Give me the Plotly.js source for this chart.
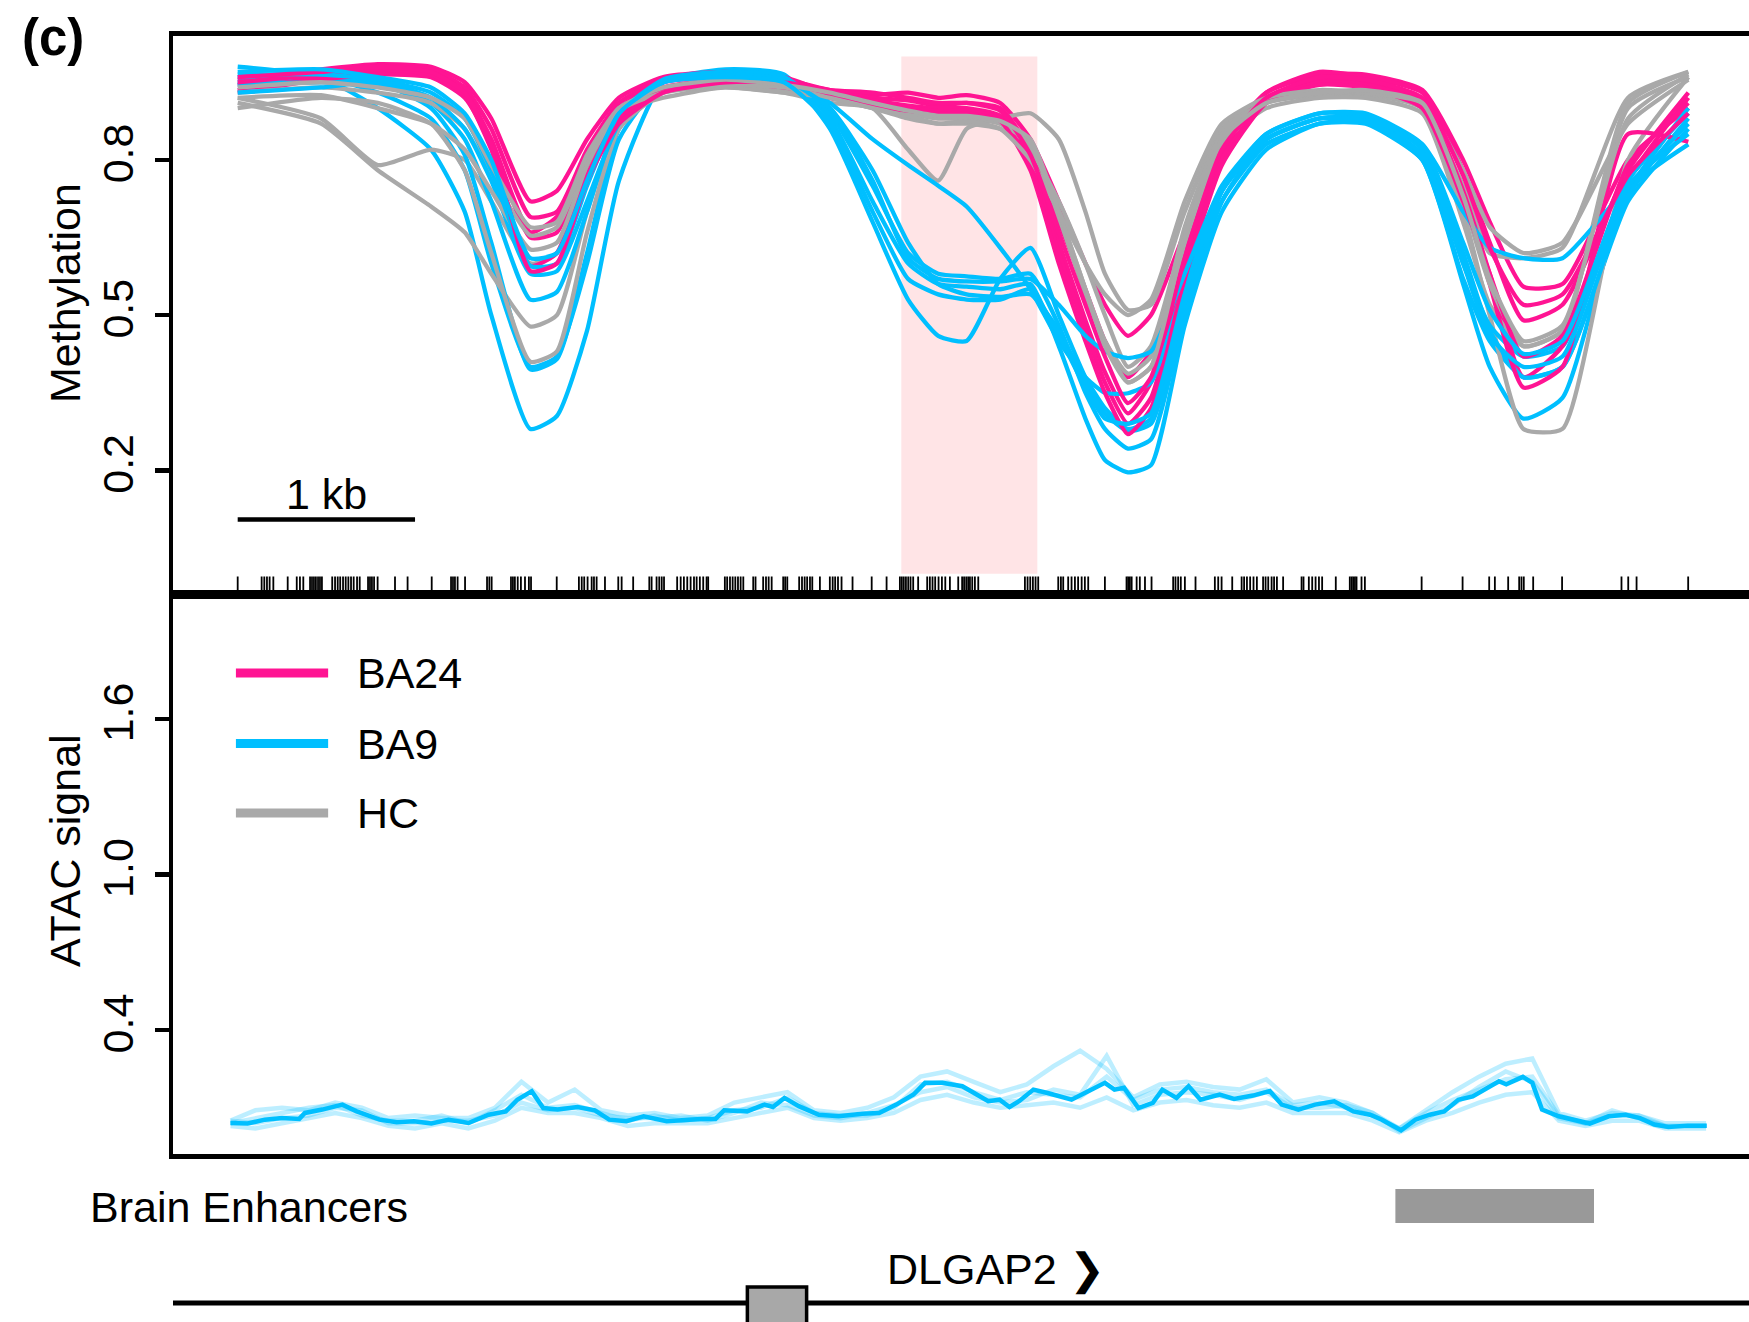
<!DOCTYPE html>
<html>
<head>
<meta charset="utf-8">
<script src="https://cdn.plot.ly/plotly-3.0.1.min.js"></script>
<style>html,body{margin:0;padding:0;background:#fff}#chart{width:1749px;height:1322px}</style>
</head>
<body>
<div id="chart"></div>
<script>
// ---------------- DATA ----------------
// genomic position in kb (0 = first CpG of the region)
const knotsKb = [0, 0.47, 0.79, 1.09, 1.28, 1.43, 1.65, 1.80, 1.97, 2.15, 2.4, 2.75, 3.08, 3.34, 3.58, 3.78, 3.95, 4.11, 4.30, 4.47, 4.63, 4.78, 4.89, 5.02, 5.15, 5.34, 5.55, 5.8, 6.1, 6.36, 6.68, 6.91, 7.06, 7.25, 7.47, 7.84, 8.18];

// BA24 samples (methylation)
const ba24_1 = [0.955,0.975,0.985,0.98,0.95,0.88,0.72,0.74,0.84,0.92,0.96,0.97,0.96,0.93,0.925,0.93,0.92,0.925,0.91,0.84,0.72,0.60,0.52,0.46,0.50,0.66,0.83,0.93,0.965,0.965,0.935,0.80,0.68,0.555,0.56,0.80,0.90];
const ba24_2 = [0.945,0.97,0.98,0.975,0.94,0.86,0.69,0.70,0.82,0.91,0.955,0.965,0.955,0.935,0.92,0.915,0.905,0.91,0.90,0.82,0.68,0.55,0.45,0.38,0.43,0.63,0.82,0.93,0.97,0.96,0.93,0.78,0.64,0.49,0.52,0.78,0.93];
const ba24_3 = [0.935,0.96,0.97,0.97,0.93,0.84,0.66,0.69,0.80,0.90,0.95,0.96,0.95,0.93,0.915,0.905,0.90,0.90,0.885,0.80,0.64,0.49,0.39,0.31,0.37,0.60,0.81,0.92,0.955,0.95,0.915,0.74,0.58,0.38,0.44,0.76,0.92];
const ba24_4 = [0.93,0.955,0.965,0.96,0.92,0.83,0.65,0.66,0.79,0.89,0.94,0.955,0.945,0.92,0.91,0.90,0.895,0.895,0.88,0.79,0.62,0.47,0.37,0.29,0.34,0.58,0.80,0.915,0.95,0.945,0.91,0.73,0.56,0.36,0.40,0.85,0.835];
const ba24_5 = [0.95,0.965,0.975,0.965,0.925,0.82,0.595,0.62,0.77,0.88,0.935,0.95,0.94,0.925,0.905,0.895,0.89,0.89,0.875,0.78,0.60,0.45,0.35,0.27,0.32,0.57,0.79,0.91,0.945,0.94,0.90,0.72,0.58,0.42,0.46,0.79,0.91];
const ba24_6 = [0.96,0.97,0.98,0.97,0.93,0.83,0.585,0.60,0.76,0.87,0.93,0.95,0.95,0.935,0.93,0.92,0.91,0.91,0.895,0.81,0.66,0.52,0.42,0.33,0.38,0.61,0.82,0.92,0.96,0.955,0.92,0.77,0.63,0.52,0.54,0.77,0.89];

// BA9 samples (methylation)
const ba9_1 = [0.98,0.96,0.90,0.82,0.70,0.50,0.28,0.305,0.47,0.76,0.95,0.975,0.965,0.86,0.68,0.53,0.46,0.45,0.57,0.63,0.50,0.38,0.32,0.28,0.30,0.52,0.72,0.83,0.87,0.875,0.80,0.56,0.40,0.30,0.34,0.74,0.83];
const ba9_2 = [0.96,0.96,0.93,0.88,0.78,0.60,0.40,0.42,0.60,0.84,0.95,0.97,0.96,0.88,0.72,0.60,0.56,0.555,0.55,0.56,0.44,0.30,0.22,0.196,0.21,0.48,0.70,0.82,0.87,0.87,0.80,0.57,0.45,0.38,0.40,0.72,0.86];
const ba9_3 = [0.95,0.955,0.95,0.90,0.81,0.64,0.395,0.415,0.62,0.86,0.955,0.97,0.96,0.89,0.75,0.62,0.58,0.575,0.57,0.58,0.48,0.35,0.28,0.242,0.26,0.50,0.72,0.84,0.88,0.88,0.81,0.60,0.48,0.42,0.44,0.74,0.90];
const ba9_4 = [0.945,0.95,0.945,0.91,0.84,0.72,0.53,0.545,0.70,0.88,0.95,0.965,0.955,0.90,0.78,0.64,0.56,0.54,0.535,0.54,0.47,0.37,0.31,0.276,0.29,0.52,0.74,0.85,0.89,0.885,0.82,0.62,0.47,0.38,0.40,0.73,0.88];
const ba9_5 = [0.93,0.94,0.95,0.92,0.86,0.76,0.58,0.585,0.72,0.87,0.95,0.96,0.955,0.91,0.84,0.79,0.75,0.71,0.63,0.55,0.45,0.38,0.35,0.349,0.37,0.56,0.74,0.84,0.88,0.88,0.83,0.70,0.63,0.61,0.61,0.75,0.87];
const ba9_6 = [0.965,0.965,0.955,0.93,0.88,0.78,0.595,0.60,0.75,0.89,0.955,0.965,0.955,0.90,0.76,0.61,0.57,0.565,0.565,0.57,0.52,0.46,0.43,0.417,0.43,0.58,0.75,0.85,0.89,0.89,0.83,0.64,0.51,0.425,0.45,0.76,0.89];
const ba9_7 = [0.97,0.975,0.96,0.94,0.89,0.80,0.61,0.62,0.76,0.89,0.95,0.96,0.95,0.87,0.70,0.57,0.54,0.53,0.53,0.55,0.46,0.36,0.30,0.29,0.31,0.54,0.74,0.84,0.88,0.875,0.81,0.60,0.46,0.40,0.42,0.75,0.85];

// HC samples (methylation)
const hc_1 = [0.92,0.88,0.79,0.82,0.80,0.72,0.60,0.62,0.78,0.89,0.92,0.94,0.93,0.91,0.90,0.82,0.76,0.86,0.88,0.89,0.84,0.70,0.58,0.51,0.52,0.70,0.86,0.92,0.93,0.93,0.90,0.75,0.62,0.61,0.63,0.92,0.97];
const hc_2 = [0.91,0.87,0.78,0.71,0.66,0.58,0.478,0.50,0.70,0.87,0.93,0.945,0.935,0.92,0.91,0.90,0.89,0.885,0.87,0.82,0.72,0.60,0.50,0.40,0.44,0.66,0.84,0.91,0.925,0.925,0.90,0.70,0.50,0.28,0.28,0.80,0.96];
const hc_3 = [0.90,0.92,0.91,0.87,0.78,0.62,0.41,0.43,0.66,0.86,0.93,0.94,0.93,0.92,0.90,0.88,0.87,0.87,0.86,0.83,0.70,0.55,0.45,0.37,0.40,0.64,0.83,0.90,0.92,0.92,0.89,0.68,0.52,0.44,0.47,0.90,0.96];
const hc_4 = [0.93,0.94,0.93,0.91,0.86,0.77,0.654,0.67,0.80,0.90,0.935,0.95,0.94,0.925,0.905,0.89,0.88,0.88,0.87,0.83,0.69,0.54,0.45,0.387,0.42,0.67,0.85,0.915,0.93,0.93,0.905,0.72,0.56,0.44,0.47,0.91,0.97];
const hc_5 = [0.92,0.925,0.90,0.87,0.82,0.74,0.627,0.64,0.79,0.895,0.93,0.945,0.94,0.92,0.90,0.885,0.87,0.875,0.86,0.80,0.70,0.60,0.54,0.50,0.53,0.72,0.87,0.92,0.935,0.93,0.91,0.78,0.67,0.62,0.64,0.87,0.955];
const hc_6 = [0.94,0.95,0.94,0.92,0.88,0.79,0.67,0.68,0.81,0.90,0.94,0.955,0.945,0.93,0.91,0.895,0.885,0.885,0.875,0.84,0.70,0.55,0.44,0.37,0.40,0.65,0.84,0.91,0.93,0.935,0.91,0.73,0.57,0.45,0.48,0.88,0.965];

// CpG positions (kb) shown as a rug
const cpgKb = [0.000,0.135,0.150,0.165,0.180,0.201,0.282,0.333,0.351,0.370,0.408,0.419,0.430,0.441,0.453,0.464,0.475,0.533,0.549,0.564,0.578,0.594,0.609,0.624,0.639,0.654,0.673,0.688,0.735,0.746,0.757,0.769,0.789,0.887,0.958,1.094,1.203,1.214,1.225,1.240,1.282,1.406,1.419,1.432,1.541,1.552,1.563,1.579,1.597,1.620,1.642,1.654,1.799,1.924,1.940,1.954,1.973,1.996,
2.009,2.024,2.071,2.146,2.165,2.230,2.321,2.334,2.362,2.377,2.391,2.404,2.478,2.498,2.516,2.535,2.554,2.573,2.588,2.606,2.625,2.644,2.653,2.747,2.760,2.776,2.791,2.806,2.821,2.836,2.851,2.907,2.920,2.963,2.979,2.994,3.011,3.076,3.087,3.099,3.166,3.182,3.197,3.211,3.227,3.240,3.283,3.339,3.355,3.369,3.385,3.405,3.467,3.575,3.659,3.734,3.745,3.756,3.768,3.781,3.794,3.809,3.837,3.888,3.903,3.918,3.933,3.952,3.971,3.990,4.016,4.063,
4.085,4.096,4.108,4.119,4.129,4.142,4.157,4.176,4.439,4.454,4.469,4.484,4.499,4.514,4.627,4.642,4.655,4.683,4.702,4.721,4.739,4.759,4.777,4.796,4.890,5.012,5.021,5.031,5.041,5.069,5.087,5.116,5.153,5.275,5.288,5.303,5.318,5.341,5.401,5.510,5.529,5.548,5.608,5.661,5.675,5.691,5.709,5.728,5.747,5.782,5.796,5.811,5.830,5.844,5.860,5.895,5.999,6.010,6.040,6.059,6.078,6.097,6.115,
6.192,6.271,6.281,6.290,6.300,6.309,6.337,6.356,6.676,6.907,7.057,7.089,7.164,7.226,7.239,7.252,7.305,7.468,7.803,7.841,7.888,8.179];

// ATAC signal (BA9): mean track and replicate tracks
const atacMeanKb = [-0.041,0.056,0.153,0.25,0.347,0.379,0.477,0.59,0.671,0.80,0.897,0.994,1.092,1.189,1.302,1.415,1.512,1.577,1.658,1.723,1.804,1.917,2.014,2.095,2.192,2.289,2.419,2.516,2.613,2.694,2.743,2.872,2.97,3.018,3.083,3.164,3.277,3.39,3.52,3.617,3.714,3.811,3.876,3.973,4.086,4.167,4.232,4.296,4.352,4.406,4.487,4.567,4.702,4.796,4.89,4.944,4.998,5.079,5.16,5.214,5.294,5.362,5.429,5.537,5.618,5.725,5.82,5.887,5.981,6.075,6.183,6.291,6.385,6.452,6.56,6.641,6.722,6.803,6.883,6.964,7.045,7.112,7.153,7.247,7.3,7.355,7.449,7.53,7.624,7.731,7.826,7.907,7.988,8.068,8.176,8.284];
const atacMean = [0.041,0.039,0.054,0.060,0.057,0.080,0.093,0.112,0.086,0.054,0.044,0.048,0.039,0.054,0.041,0.073,0.086,0.131,0.164,0.099,0.093,0.103,0.090,0.054,0.048,0.067,0.048,0.054,0.057,0.057,0.090,0.086,0.112,0.103,0.138,0.106,0.073,0.067,0.077,0.080,0.112,0.151,0.196,0.196,0.183,0.151,0.125,0.131,0.103,0.125,0.170,0.157,0.131,0.164,0.196,0.170,0.177,0.099,0.119,0.170,0.138,0.183,0.131,0.151,0.134,0.147,0.164,0.112,0.093,0.112,0.125,0.086,0.073,0.054,0.013,0.054,0.073,0.086,0.131,0.144,0.177,0.202,0.190,0.219,0.196,0.093,0.067,0.054,0.039,0.067,0.073,0.060,0.035,0.026,0.031,0.031];
const atacRepKb = [-0.04,0.1,0.25,0.4,0.55,0.7,0.85,1.0,1.15,1.3,1.45,1.6,1.75,1.9,2.05,2.2,2.35,2.5,2.65,2.8,2.95,3.1,3.25,3.4,3.55,3.7,3.85,4.0,4.15,4.3,4.45,4.6,4.75,4.9,5.05,5.2,5.35,5.5,5.65,5.8,5.95,6.1,6.25,6.4,6.55,6.7,6.85,7.0,7.15,7.3,7.45,7.6,7.75,7.9,8.05,8.28];
const atacRep1 = [0.05,0.09,0.10,0.09,0.12,0.10,0.06,0.07,0.06,0.06,0.10,0.20,0.12,0.17,0.09,0.07,0.08,0.06,0.07,0.12,0.14,0.16,0.09,0.08,0.10,0.14,0.22,0.24,0.20,0.16,0.19,0.26,0.32,0.25,0.14,0.19,0.20,0.18,0.17,0.21,0.12,0.14,0.12,0.08,0.02,0.09,0.16,0.22,0.27,0.29,0.08,0.05,0.08,0.07,0.04,0.04];
const atacRep2 = [0.03,0.02,0.04,0.06,0.08,0.06,0.03,0.02,0.04,0.02,0.05,0.10,0.08,0.08,0.06,0.03,0.04,0.04,0.04,0.06,0.08,0.10,0.06,0.05,0.06,0.08,0.13,0.15,0.12,0.10,0.11,0.12,0.10,0.14,0.09,0.12,0.13,0.11,0.10,0.12,0.08,0.08,0.08,0.05,0.005,0.05,0.08,0.12,0.15,0.16,0.05,0.03,0.05,0.05,0.02,0.02];
const atacRep3 = [0.04,0.06,0.08,0.10,0.11,0.07,0.05,0.05,0.07,0.04,0.09,0.15,0.10,0.11,0.08,0.05,0.07,0.05,0.06,0.09,0.10,0.14,0.08,0.07,0.07,0.10,0.19,0.20,0.16,0.13,0.16,0.15,0.14,0.22,0.13,0.17,0.18,0.16,0.15,0.17,0.11,0.12,0.10,0.07,0.02,0.08,0.13,0.17,0.21,0.22,0.07,0.04,0.07,0.07,0.03,0.03];
const atacRep4 = [0.05,0.04,0.06,0.07,0.10,0.09,0.04,0.04,0.05,0.05,0.07,0.12,0.09,0.10,0.07,0.06,0.06,0.07,0.05,0.08,0.12,0.11,0.07,0.06,0.08,0.11,0.16,0.18,0.14,0.12,0.13,0.17,0.15,0.30,0.11,0.15,0.16,0.15,0.13,0.16,0.10,0.10,0.11,0.08,0.01,0.06,0.11,0.18,0.24,0.20,0.06,0.04,0.09,0.06,0.03,0.03];

// annotation tracks (kb)
const dmrKb = [3.742, 4.509];
const enhancerKb = [6.528, 7.648];
const exonKb = [2.874, 3.208];
const geneName = 'DLGAP2';
const scaleBarKb = [0, 1];
const scaleBarLabel = '1 kb';

// groups
const groupNames = ['BA24', 'BA9', 'HC'];
const groupColors = ['#FF1493', '#00BFFF', '#A9A9A9'];
const methTicks = [0.2, 0.5, 0.8];
const methTickText = ['0.2', '0.5', '0.8'];
const atacTicks = [0.4, 1.0, 1.6];
const atacTickText = ['0.4', '1.0', '1.6'];

// ---------------- STYLE ----------------
const FONT = 'Liberation Sans, Arial, Helvetica, sans-serif';
const FS = 43;
const AX_LW = 4.5;
const xRange = [-0.3648, 8.522];
const rugY = [-0.04, -0.005];
const scaleBarY = 0.105, scaleLabelY = 0.154;
const legendY = [1.777, 1.505, 1.237];
const legendLineKb = [-0.01, 0.51];
const legendTextKb = 0.66;

// ---------------- TRACES ----------------
const traces = [];
const groups = [
  [ba24_1, ba24_2, ba24_3, ba24_4, ba24_5, ba24_6],
  [ba9_1, ba9_2, ba9_3, ba9_4, ba9_5, ba9_6, ba9_7],
  [hc_1, hc_2, hc_3, hc_4, hc_5, hc_6]
];
const maxN = Math.max(...groups.map(g => g.length));
for (let i = 0; i < maxN; i++) {
  [1, 0, 2].forEach(g => {
    if (groups[g][i]) traces.push({
      type: 'scatter', mode: 'lines', x: knotsKb, y: groups[g][i],
      xaxis: 'x', yaxis: 'y', line: {color: groupColors[g], width: 4.3, shape: 'spline', smoothing: 0.55},
      hoverinfo: 'skip', showlegend: false
    });
  });
}
// rug
const rx = [], ry = [];
cpgKb.forEach(p => { rx.push(p, p, null); ry.push(rugY[0], rugY[1], null); });
traces.push({type: 'scatter', mode: 'lines', x: rx, y: ry, xaxis: 'x', yaxis: 'y',
  line: {color: '#000', width: 1.8}, hoverinfo: 'skip', showlegend: false});

// ATAC replicates + mean
[atacRep1, atacRep2, atacRep3, atacRep4].forEach(r => traces.push({
  type: 'scatter', mode: 'lines', x: atacRepKb, y: r, xaxis: 'x2', yaxis: 'y2',
  line: {color: 'rgba(0,191,255,0.26)', width: 4.5}, hoverinfo: 'skip', showlegend: false
}));
traces.push({type: 'scatter', mode: 'lines', x: atacMeanKb, y: atacMean, xaxis: 'x2', yaxis: 'y2',
  line: {color: groupColors[1], width: 4.5}, hoverinfo: 'skip', showlegend: false});

// manual legend
groupNames.forEach((n, i) => traces.push({
  type: 'scatter', mode: 'lines', x: legendLineKb, y: [legendY[i], legendY[i]], xaxis: 'x2', yaxis: 'y2',
  line: {color: groupColors[i], width: 9}, hoverinfo: 'skip', showlegend: false
}));

// ---------------- LAYOUT ----------------
const H = 1322;
const pf = px => 1 - px / H;          // pixel row -> paper y
const W0 = 173, PW = 1749 - 173;
const px2paperX = px => (px - W0) / PW;

const yAxisBase = {
  showline: true, linewidth: AX_LW, linecolor: '#000', mirror: false,
  ticks: 'outside', ticklen: 14, tickwidth: AX_LW, tickcolor: '#000',
  tickangle: -90, showgrid: false, zeroline: false,
  tickfont: {family: FONT, size: FS, color: '#000'}, ticklabelstandoff: 4
};
const xAxisBase = {
  showline: true, mirror: true, linewidth: AX_LW, linecolor: '#000',
  ticks: '', showticklabels: false, showgrid: false, zeroline: false
};

const annotations = [
  {text: '<b>(c)</b>', xref: 'paper', yref: 'paper', x: px2paperX(53), y: pf(37), showarrow: false,
   xanchor: 'center', yanchor: 'middle', font: {family: FONT, size: 51, color: '#000'}},
  {text: 'Methylation', xref: 'paper', yref: 'paper', x: px2paperX(65), y: pf(293), textangle: -90,
   showarrow: false, xanchor: 'center', yanchor: 'middle', font: {family: FONT, size: FS, color: '#000'}},
  {text: 'ATAC signal', xref: 'paper', yref: 'paper', x: px2paperX(65), y: pf(851), textangle: -90,
   showarrow: false, xanchor: 'center', yanchor: 'middle', font: {family: FONT, size: FS, color: '#000'}},
  {text: scaleBarLabel, xref: 'x', yref: 'y', x: (scaleBarKb[0] + scaleBarKb[1]) / 2, y: scaleLabelY,
   showarrow: false, xanchor: 'center', yanchor: 'middle', font: {family: FONT, size: FS, color: '#000'}},
  {text: 'Brain Enhancers', xref: 'paper', yref: 'paper', x: px2paperX(88), y: pf(1207),
   showarrow: false, xanchor: 'left', yanchor: 'middle', font: {family: FONT, size: FS, color: '#000'}},
  {text: geneName + ' ❯', xref: 'x3', yref: 'paper', x: 3.65, y: pf(1270),
   showarrow: false, xanchor: 'left', yanchor: 'middle', font: {family: FONT, size: FS, color: '#000'}}
];
groupNames.forEach((n, i) => annotations.push({
  text: n, xref: 'x2', yref: 'y2', x: legendTextKb, y: legendY[i], showarrow: false,
  xanchor: 'left', yanchor: 'middle', font: {family: FONT, size: FS, color: '#000'}
}));

const shapes = [
  {type: 'rect', xref: 'x', yref: 'y', x0: dmrKb[0], x1: dmrKb[1], y0: 0, y1: 1.0,
   fillcolor: '#FFE4E6', line: {width: 0}, layer: 'below'},
  {type: 'line', xref: 'x', yref: 'y', x0: scaleBarKb[0], x1: scaleBarKb[1], y0: scaleBarY, y1: scaleBarY,
   line: {color: '#000', width: 4.5}},
  {type: 'rect', xref: 'x3', yref: 'paper', x0: enhancerKb[0], x1: enhancerKb[1], y0: pf(1223), y1: pf(1189),
   fillcolor: '#999999', line: {width: 0}},
  {type: 'line', xref: 'paper', yref: 'paper', x0: 0, x1: 1, y0: pf(1303), y1: pf(1303),
   line: {color: '#000', width: 5}},
  {type: 'rect', xref: 'x3', yref: 'paper', x0: exonKb[0], x1: exonKb[1], y0: -0.03, y1: pf(1287),
   fillcolor: '#A8A8A8', line: {color: '#000', width: 3.5}}
];

const layout = {
  width: 1749, height: 1322,
  margin: {l: W0, r: 0, t: 0, b: 0, pad: 0},
  paper_bgcolor: '#fff', plot_bgcolor: 'rgba(0,0,0,0)',
  showlegend: false, hovermode: false,
  font: {family: FONT, size: FS, color: '#000'},
  xaxis: Object.assign({}, xAxisBase, {domain: [0, 1], range: xRange, anchor: 'y'}),
  yaxis: Object.assign({}, yAxisBase, {domain: [pf(594.5), pf(35.7)], range: [-0.04, 1.04],
    tickvals: methTicks, ticktext: methTickText}),
  xaxis2: Object.assign({}, xAxisBase, {domain: [0, 1], matches: 'x', range: xRange, anchor: 'y2'}),
  yaxis2: Object.assign({}, yAxisBase, {domain: [pf(1154.4), pf(594.5)], range: [-0.08, 2.08],
    tickvals: atacTicks, ticktext: atacTickText}),
  xaxis3: {domain: [0, 1], matches: 'x', range: xRange, anchor: 'y3', visible: false},
  yaxis3: {domain: [0, pf(1154.4)], range: [0, 1], visible: false},
  annotations: annotations,
  shapes: shapes
};

Plotly.newPlot('chart', traces, layout, {staticPlot: true, displayModeBar: false});
</script>
</body>
</html>
